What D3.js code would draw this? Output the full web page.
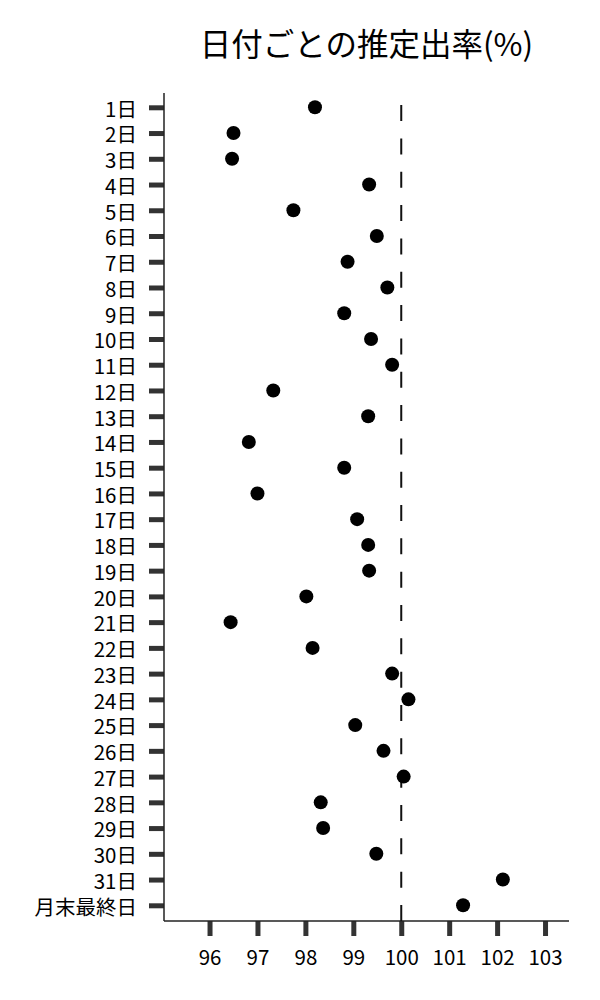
<!DOCTYPE html>
<html>
<head>
<meta charset="utf-8">
<script src="https://cdn.jsdelivr.net/npm/d3@7"></script>
<style>
body { margin: 0; background: #fff; }
svg { display: block; }
text { font-family: "Noto Sans CJK JP", "Noto Sans", sans-serif; }
</style>
</head>
<body>
<script>
const categories = ["1日","2日","3日","4日","5日","6日","7日","8日","9日","10日","11日","12日","13日","14日","15日","16日","17日","18日","19日","20日","21日","22日","23日","24日","25日","26日","27日","28日","29日","30日","31日","月末最終日"];
const values = [98.20,96.50,96.47,99.33,97.75,99.49,98.88,99.71,98.81,99.37,99.81,97.33,99.31,96.82,98.81,97.00,99.08,99.31,99.33,98.02,96.44,98.15,99.81,100.15,99.04,99.63,100.05,98.32,98.37,99.48,102.12,101.29];
const xTicks = [96,97,98,99,100,101,102,103];
const refValue = 100;
const title = "日付ごとの推定出率(%)";

(function () {
const W = 600, H = 1000;
const pLeft = 164, pRight = 569, pTop = 93, pBottom = 921;

const svg = d3.select("body").append("svg").attr("width", W).attr("height", H);

const x = d3.scaleLinear().domain([95.05, 103.5]).range([pLeft, pRight]);
const y = d3.scalePoint().domain(categories).range([107.3, 905.3]);

// title
svg.append("text")
  .attr("x", (pLeft + pRight) / 2).attr("y", 56)
  .attr("text-anchor", "middle")
  .attr("font-size", 31.5)
  .attr("fill", "#000")
  .text(title);

// x axis
const xAxis = svg.append("g").attr("transform", `translate(0,${pBottom})`)
  .call(d3.axisBottom(x).tickValues(xTicks).tickSize(15).tickPadding(14).tickFormat(d3.format("d")));
xAxis.select(".domain").remove();
xAxis.selectAll(".tick line").attr("stroke", "#333").attr("stroke-width", 5);
xAxis.selectAll(".tick text").attr("font-size", 20.5).attr("fill", "#000")
  .attr("font-family", '"Noto Sans CJK JP", sans-serif');

// y axis
const yAxis = svg.append("g").attr("transform", `translate(${pLeft},0)`)
  .call(d3.axisLeft(y).tickSize(15).tickPadding(12));
yAxis.select(".domain").remove();
yAxis.selectAll(".tick line").attr("stroke", "#333").attr("stroke-width", 5);
yAxis.selectAll(".tick text").attr("font-size", 20.5).attr("fill", "#000")
  .attr("dy", "0.43em")
  .attr("font-family", '"Noto Sans CJK JP", sans-serif');

// axis lines (spines)
svg.append("line").attr("x1", pLeft).attr("x2", pLeft).attr("y1", pTop).attr("y2", pBottom)
  .attr("stroke", "#222").attr("stroke-width", 1.5);
svg.append("line").attr("x1", pLeft).attr("x2", pRight).attr("y1", pBottom).attr("y2", pBottom)
  .attr("stroke", "#222").attr("stroke-width", 1.5);

// reference dashed line
svg.append("line")
  .attr("x1", x(refValue)).attr("x2", x(refValue))
  .attr("y1", pBottom).attr("y2", pTop)
  .attr("stroke", "#111").attr("stroke-width", 2)
  .attr("stroke-dasharray", "16,17.33");

// points
svg.append("g").selectAll("circle")
  .data(categories.map((c, i) => ({c, v: values[i]})))
  .join("circle")
  .attr("cx", d => x(d.v))
  .attr("cy", d => y(d.c))
  .attr("r", 7)
  .attr("fill", "#000");
})();
</script>
</body>
</html>
